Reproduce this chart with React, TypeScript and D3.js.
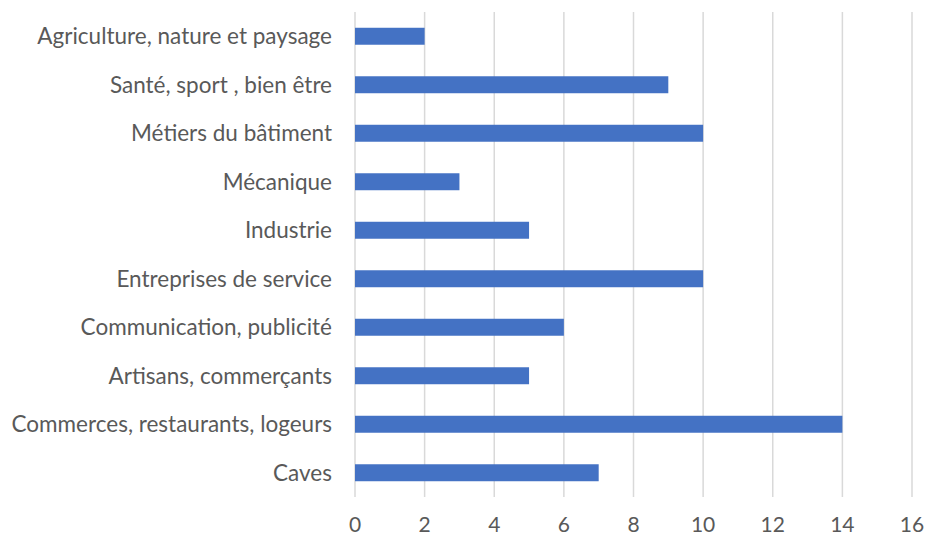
import { useEffect, useRef } from "react"
import * as d3 from "d3"

const categories = [
    "Agriculture, nature et paysage",
    "Santé, sport , bien être",
    "Métiers du bâtiment",
    "Mécanique",
    "Industrie",
    "Entreprises de service",
    "Communication, publicité",
    "Artisans, commerçants",
    "Commerces, restaurants, logeurs",
    "Caves",
]
const values = [2, 9, 10, 3, 5, 10, 6, 5, 14, 7]
const xTicks = [0, 2, 4, 6, 8, 10, 12, 14, 16]

export default function App() {
    const svgRef = useRef<SVGSVGElement | null>(null)

    useEffect(() => {
        if (!svgRef.current) return
        const height = 538
        const margin = { top: 12, right: 15, bottom: 41, left: 355 }
        const innerHeight = height - margin.top - margin.bottom

        const svg = d3.select(svgRef.current)
        svg.selectAll("*").remove()

        const g = svg.append("g").attr("transform", `translate(${margin.left},${margin.top})`)

        const x = d3.scaleLinear().domain([0, 16]).range([0, 557])
        const y = d3.scaleBand().domain(categories).range([0, innerHeight]).paddingInner(0.65).paddingOuter(0.325)

        // gridlines
        g.append("g")
            .selectAll("line")
            .data(xTicks)
            .enter()
            .append("line")
            .attr("x1", (d) => x(d))
            .attr("x2", (d) => x(d))
            .attr("y1", 0)
            .attr("y2", innerHeight)
            .attr("stroke", "#d9d9d9")
            .attr("stroke-width", 1.5)

        g.append("g")
            .selectAll("rect")
            .data(values)
            .enter()
            .append("rect")
            .attr("x", x(0))
            .attr("y", (_, i) => y(categories[i])!)
            .attr("width", (d) => x(d) - x(0))
            .attr("height", y.bandwidth())
            .attr("fill", "#4472c4")

        // tick labels
        g.append("g")
            .selectAll("text")
            .data(xTicks)
            .enter()
            .append("text")
            .attr("x", (d) => x(d))
            .attr("y", innerHeight + 35)
            .attr("text-anchor", "middle")
            .attr("font-family", "Lato, sans-serif")
            .attr("font-size", "21px")
            .attr("fill", "#595959")
            .text((d) => d)

        // category labels
        g.append("g")
            .selectAll("text")
            .data(categories)
            .enter()
            .append("text")
            .attr("x", -23)
            .attr("y", (d) => y(d)! + y.bandwidth() / 2)
            .attr("dy", "0.35em")
            .attr("text-anchor", "end")
            .attr("font-family", "Lato, sans-serif")
            .attr("font-size", "22.5px")
            .attr("fill", "#595959")
            .text((d) => d)
    }, [])

    return (
        <div style={{ position: "absolute", left: 0, top: 0 }}>
            <svg ref={svgRef} width={927} height={538} style={{ display: "block", background: "#fff" }} />
        </div>
    )
}
